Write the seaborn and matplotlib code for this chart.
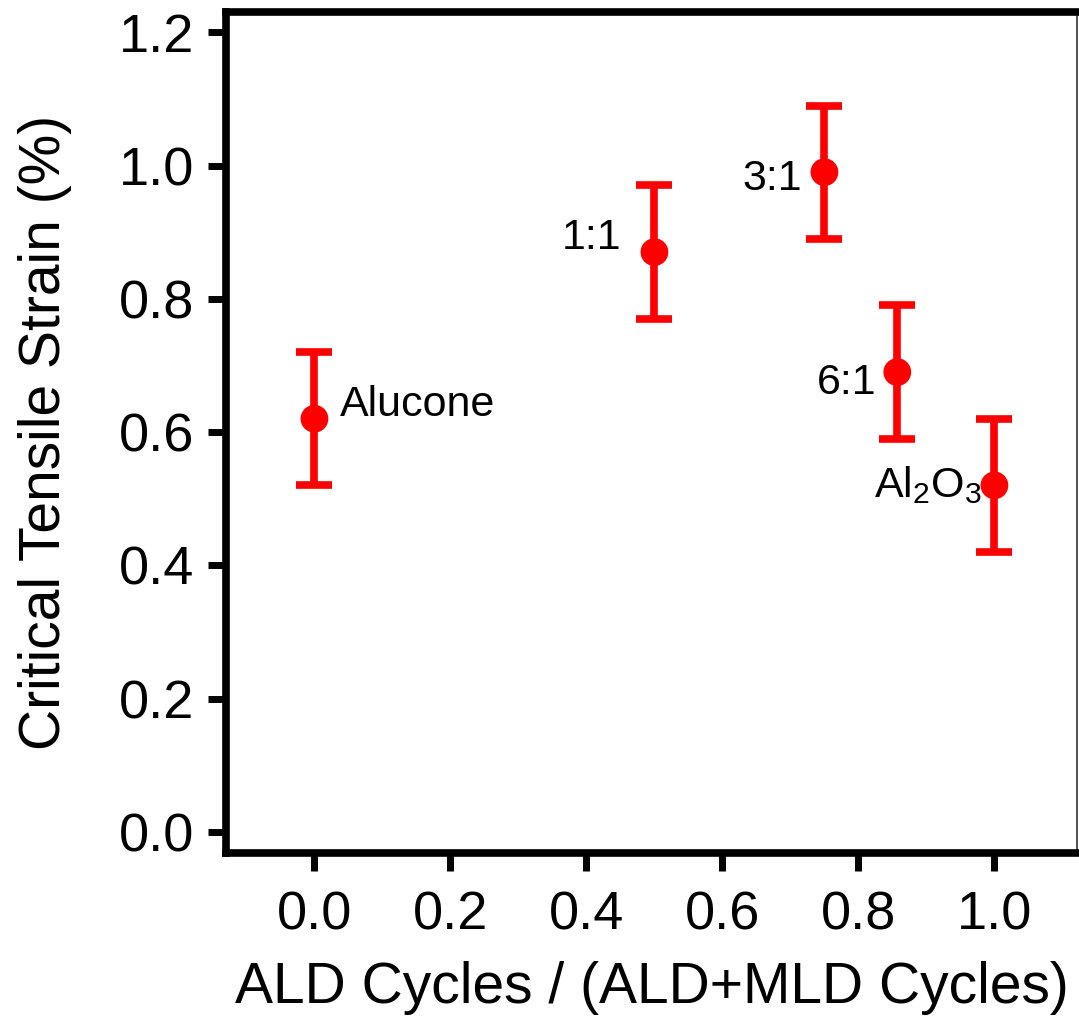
import matplotlib
matplotlib.use("Agg")
import matplotlib.pyplot as plt
import seaborn as sns
import pandas as pd

# Data
labels = ["Alucone", "1:1", "3:1", "6:1", r"Al$_2$O$_3$"]
ratio = [0.0, 0.5, 0.75, 6/7, 1.0]
strain = [0.62, 0.87, 0.99, 0.69, 0.52]
err = [0.10, 0.10, 0.10, 0.10, 0.10]
xticks = [0.0, 0.2, 0.4, 0.6, 0.8, 1.0]
yticks = [0.0, 0.2, 0.4, 0.6, 0.8, 1.0, 1.2]

sns.set_style("white")
plt.rcParams['font.family'] = ['Liberation Sans', 'DejaVu Sans']
plt.rcParams['mathtext.fontset'] = 'custom'
plt.rcParams['mathtext.rm'] = 'Liberation Sans'
plt.rcParams['mathtext.it'] = 'Liberation Sans'
plt.rcParams['mathtext.default'] = 'regular'
for k in ['text.color', 'axes.labelcolor', 'xtick.color', 'ytick.color']:
    plt.rcParams[k] = 'black'

df = pd.DataFrame({"ratio": ratio, "strain": strain, "err": err, "label": labels})

fig = plt.figure(figsize=(10.79, 10.19), dpi=100)
ax = fig.add_axes([0.2095, 0.163, 0.789, 0.825])

ax.errorbar(df["ratio"], df["strain"], yerr=df["err"], fmt="none",
            ecolor="#ff0000", elinewidth=5.5, capsize=13, capthick=5.5, zorder=2)
sns.scatterplot(data=df, x="ratio", y="strain", ax=ax, color="#ff0000",
                s=400, edgecolor="none", zorder=3, legend=False)

# annotations
ann = [
    (0.0, 0.62, "Alucone", 18, 10, "left"),
    (0.5, 0.87, "1:1", -24, 10, "right"),
    (0.75, 0.99, "3:1", -16, -5, "right"),
    (6/7, 0.69, "6:1", -15, -8, "right"),
    (1.0, 0.52, r"Al$_2$O$_3$", -9, 0, "right"),
]
for x, y, t, dx, dy, ha in ann:
    ax.annotate(t, (x, y), xytext=(dx, dy), textcoords="offset points",
                ha=ha, va="center", fontsize=31, color="black")

ax.set_xlim(-0.13, 1.122)
ax.set_ylim(-0.0315, 1.23)
ax.set_xticks(xticks)
ax.set_yticks(yticks)
ax.set_xticklabels([f"{v:.1f}" for v in xticks])
ax.set_yticklabels([f"{v:.1f}" for v in yticks])

for s in ["left", "bottom", "top"]:
    ax.spines[s].set_linewidth(5.5)
    ax.spines[s].set_color("black")
ax.spines["right"].set_linewidth(1.2)
ax.spines["right"].set_color("#333333")

ax.tick_params(axis="both", direction="out", length=13, width=5, labelsize=39,
               color="black", left=True, bottom=True)
ax.tick_params(axis="x", pad=14)
ax.tick_params(axis="y", pad=10)

ax.set_xlabel("ALD Cycles / (ALD+MLD Cycles)", fontsize=41, labelpad=15)
ax.set_ylabel("Critical Tensile Strain (%)", fontsize=41, labelpad=34)

fig.savefig("out.png", dpi=100)
